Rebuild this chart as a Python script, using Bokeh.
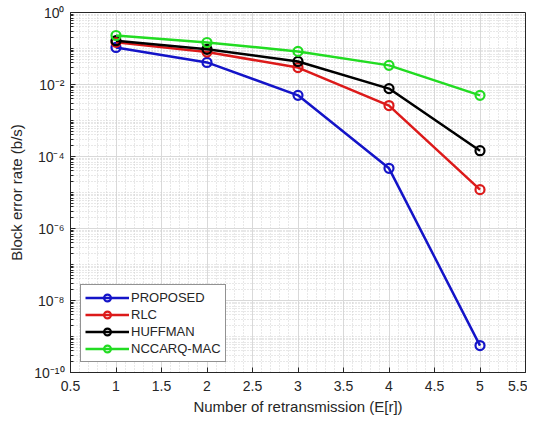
from bokeh.plotting import figure
from bokeh.models import FixedTicker, CustomJSTickFormatter, Legend, Range1d
from bokeh.embed import file_html
from bokeh.resources import INLINE

x = [1, 2, 3, 4, 5]
proposed = [0.107, 0.041, 0.005, 4.7e-5, 5.6e-10]
rlc = [0.148, 0.08, 0.0296, 0.0026, 1.2e-5]
huffman = [0.165, 0.095, 0.0437, 0.0077, 1.45e-4]
nccarq = [0.23, 0.147, 0.083, 0.034, 0.005]

series_names = ["PROPOSED", "RLC", "HUFFMAN", "NCCARQ-MAC"]
series_colors = ["#1414c8", "#dc1a1a", "#000000", "#22dc22"]

x_ticks = [0.5, 1, 1.5, 2, 2.5, 3, 3.5, 4, 4.5, 5, 5.5]
y_ticks = [1e-10, 1e-8, 1e-6, 1e-4, 1e-2, 1e0]

FONT = "Liberation Sans"
TXT = "#262626"

p = figure(frame_width=455, frame_height=360,
           x_range=Range1d(0.5, 5.5), y_range=Range1d(1e-10, 1),
           y_axis_type="log", output_backend="svg", toolbar_location=None,
           min_border_left=70, min_border_right=2, min_border_top=12, min_border_bottom=35,
           background_fill_color="white", border_fill_color="white")

p.outline_line_color = TXT
p.outline_line_width = 1

x_minor = [round(0.5 + 0.1 * i, 2) for i in range(51)]
y_minor = [k * 10.0 ** e for e in range(-10, 0) for k in range(1, 10)]

p.xaxis.ticker = FixedTicker(ticks=x_ticks, minor_ticks=x_minor)
p.yaxis.ticker = FixedTicker(ticks=y_ticks, minor_ticks=y_minor)

sup = CustomJSTickFormatter(code="""
const m = {'0':'\u2070','1':'\u00b9','2':'\u00b2','3':'\u00b3','4':'\u2074','5':'\u2075','6':'\u2076','7':'\u2077','8':'\u2078','9':'\u2079','-':'\u207b'};
const e = Math.round(Math.log10(tick));
return '10' + String(e).split('').map(c => m[c]).join('');
""")
p.yaxis.formatter = sup

for ax in [p.xaxis[0], p.yaxis[0]]:
    ax.axis_line_color = TXT
    ax.major_tick_line_color = TXT
    ax.minor_tick_line_color = TXT
    ax.major_tick_in = 5
    ax.major_tick_out = 0
    ax.minor_tick_in = 0
    ax.minor_tick_out = 0
    ax.major_label_text_font = FONT
    ax.major_label_text_font_size = "14px"
    ax.major_label_text_color = TXT
    ax.axis_label_text_font = FONT
    ax.axis_label_text_font_size = "15px"
    ax.axis_label_text_font_style = "normal"
    ax.axis_label_text_color = TXT

p.yaxis.minor_tick_in = 3
p.xaxis.major_label_standoff = 8
p.yaxis.major_label_standoff = 6
p.xaxis.axis_label = "Number of retransmission (E[r])"
p.yaxis.axis_label = "Block error rate (b/s)"
p.xaxis.axis_label_standoff = 4
p.yaxis.axis_label_standoff = 6

for g in [p.xgrid[0], p.ygrid[0]]:
    g.grid_line_color = "#d9d9d9"
    g.grid_line_width = 1
    g.minor_grid_line_color = "#d0d0d0"
    g.minor_grid_line_dash = "1 2"
    g.minor_grid_line_width = 1

items = []
for name, col, ys in zip(series_names, series_colors, [proposed, rlc, huffman, nccarq]):
    l = p.line(x, ys, line_color=col, line_width=2.5)
    s = p.scatter(x, ys, marker="circle", size=9, fill_alpha=0, line_color=col, line_width=2.2)
    items.append((name, [l, s]))

leg = Legend(items=items, location="bottom_left")
leg.margin = 10
leg.padding = 4
leg.spacing = 0
leg.glyph_width = 44
leg.glyph_height = 17
leg.label_height = 17
leg.label_standoff = 2
leg.label_text_font = FONT
leg.label_text_font_size = "13px"
leg.label_text_color = TXT
leg.border_line_color = TXT
leg.border_line_width = 1
leg.background_fill_color = "white"
leg.background_fill_alpha = 1
p.add_layout(leg, "center")

open("out.html", "w").write(file_html(p, INLINE))
